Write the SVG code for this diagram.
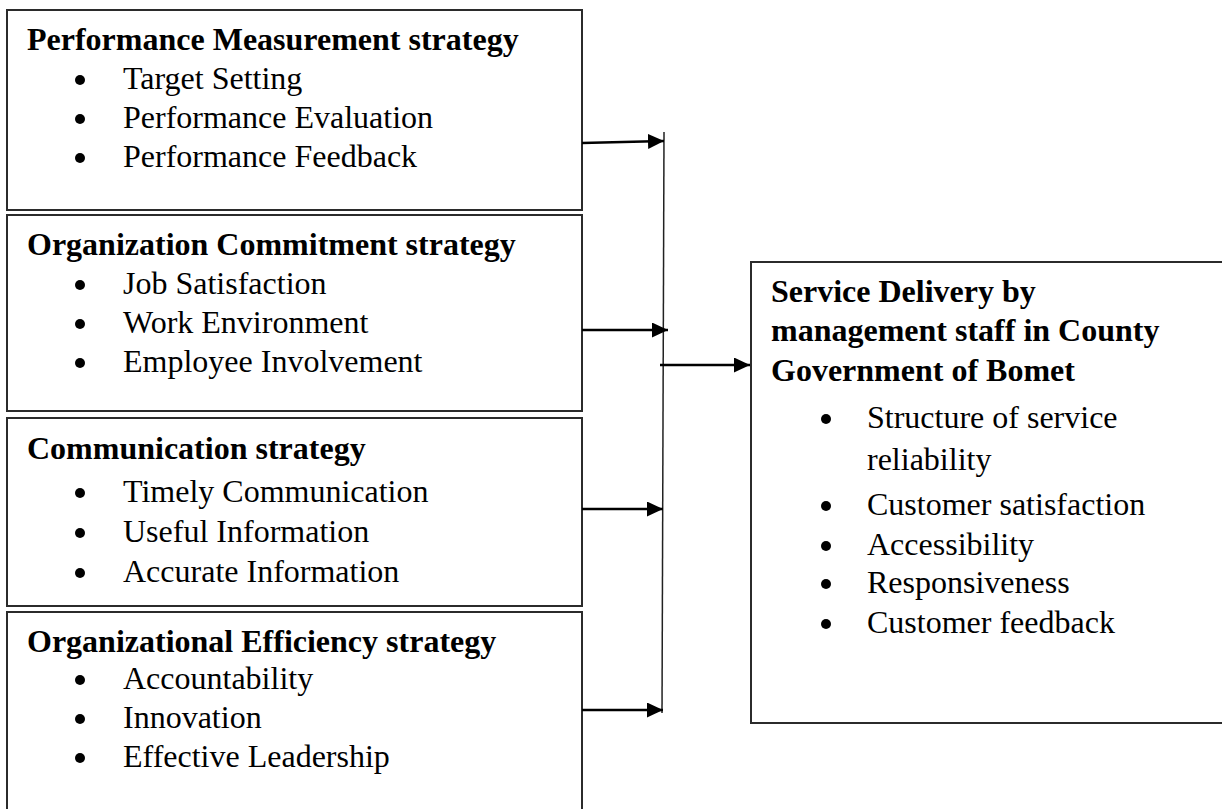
<svg xmlns="http://www.w3.org/2000/svg" width="1222" height="809" viewBox="0 0 1222 809">
  <style>
    .box { fill: #ffffff; stroke: #2b2b2b; stroke-width: 2; }
    .head { font-family: "Liberation Serif", "Times New Roman", serif; font-size: 32px; font-weight: bold; fill: #000; }
    .item { font-family: "Liberation Serif", "Times New Roman", serif; font-size: 32px; fill: #000; }
    .dot { fill: #000; }
    .link { stroke: #000; stroke-width: 2.5; fill: none; }
    .bus { stroke: #222; stroke-width: 1.5; fill: none; }
  </style>
  <defs>
    <marker id="arrow" markerUnits="userSpaceOnUse" markerWidth="16" markerHeight="16" refX="16" refY="7.5" orient="auto">
      <path d="M0,0 L16,7.5 L0,15 z" fill="#000"/>
    </marker>
  </defs>

  <rect x="0" y="0" width="1222" height="809" fill="#ffffff"/>

  <!-- Independent variable: performance measurement -->
  <g id="performance-measurement">
    <rect class="box" x="7" y="10" width="575" height="200"/>
    <text class="head" x="27" y="50">Performance Measurement strategy</text>
    <circle class="dot" cx="80" cy="80" r="5"/>
    <text class="item" x="123" y="89">Target Setting</text>
    <circle class="dot" cx="80" cy="119" r="5"/>
    <text class="item" x="123" y="128">Performance Evaluation</text>
    <circle class="dot" cx="80" cy="158" r="5"/>
    <text class="item" x="123" y="167">Performance Feedback</text>
  </g>

  <!-- Independent variable: organization commitment -->
  <g id="organization-commitment">
    <rect class="box" x="7" y="215" width="575" height="196"/>
    <text class="head" x="27" y="255">Organization Commitment strategy</text>
    <circle class="dot" cx="80" cy="285" r="5"/>
    <text class="item" x="123" y="294">Job Satisfaction</text>
    <circle class="dot" cx="80" cy="324" r="5"/>
    <text class="item" x="123" y="333">Work Environment</text>
    <circle class="dot" cx="80" cy="363" r="5"/>
    <text class="item" x="123" y="372">Employee Involvement</text>
  </g>

  <!-- Independent variable: communication -->
  <g id="communication">
    <rect class="box" x="7" y="418" width="575" height="188"/>
    <text class="head" x="27" y="459">Communication strategy</text>
    <circle class="dot" cx="80" cy="493" r="5"/>
    <text class="item" x="123" y="502">Timely Communication</text>
    <circle class="dot" cx="80" cy="533" r="5"/>
    <text class="item" x="123" y="542">Useful Information</text>
    <circle class="dot" cx="80" cy="573" r="5"/>
    <text class="item" x="123" y="582">Accurate Information</text>
  </g>

  <!-- Independent variable: organizational efficiency -->
  <g id="organizational-efficiency">
    <rect class="box" x="7" y="612" width="575" height="210"/>
    <text class="head" x="27" y="652">Organizational Efficiency strategy</text>
    <circle class="dot" cx="80" cy="680" r="5"/>
    <text class="item" x="123" y="689">Accountability</text>
    <circle class="dot" cx="80" cy="719" r="5"/>
    <text class="item" x="123" y="728">Innovation</text>
    <circle class="dot" cx="80" cy="758" r="5"/>
    <text class="item" x="123" y="767">Effective Leadership</text>
  </g>

  <!-- Dependent variable: service delivery -->
  <g id="service-delivery">
    <rect class="box" x="751" y="262" width="490" height="461"/>
    <text class="head" x="771" y="302">Service Delivery by</text>
    <text class="head" x="771" y="341">management staff in County</text>
    <text class="head" x="771" y="381">Government of Bomet</text>
    <circle class="dot" cx="826" cy="419" r="5"/>
    <text class="item" x="867" y="428">Structure of service</text>
    <text class="item" x="867" y="470">reliability</text>
    <circle class="dot" cx="826" cy="506" r="5"/>
    <text class="item" x="867" y="515">Customer satisfaction</text>
    <circle class="dot" cx="826" cy="546" r="5"/>
    <text class="item" x="867" y="555">Accessibility</text>
    <circle class="dot" cx="826" cy="584" r="5"/>
    <text class="item" x="867" y="593">Responsiveness</text>
    <circle class="dot" cx="826" cy="624" r="5"/>
    <text class="item" x="867" y="633">Customer feedback</text>
  </g>

  <!-- Connectors -->
  <g id="connectors">
    <line class="bus" x1="664" y1="132" x2="662" y2="713"/>
    <line class="link" x1="582" y1="143" x2="664" y2="141" marker-end="url(#arrow)"/>
    <line class="link" x1="582" y1="330" x2="668" y2="330" marker-end="url(#arrow)"/>
    <line class="link" x1="660" y1="365" x2="750" y2="365" marker-end="url(#arrow)"/>
    <line class="link" x1="582" y1="509" x2="663" y2="509" marker-end="url(#arrow)"/>
    <line class="link" x1="582" y1="710" x2="663" y2="710" marker-end="url(#arrow)"/>
  </g>
</svg>
